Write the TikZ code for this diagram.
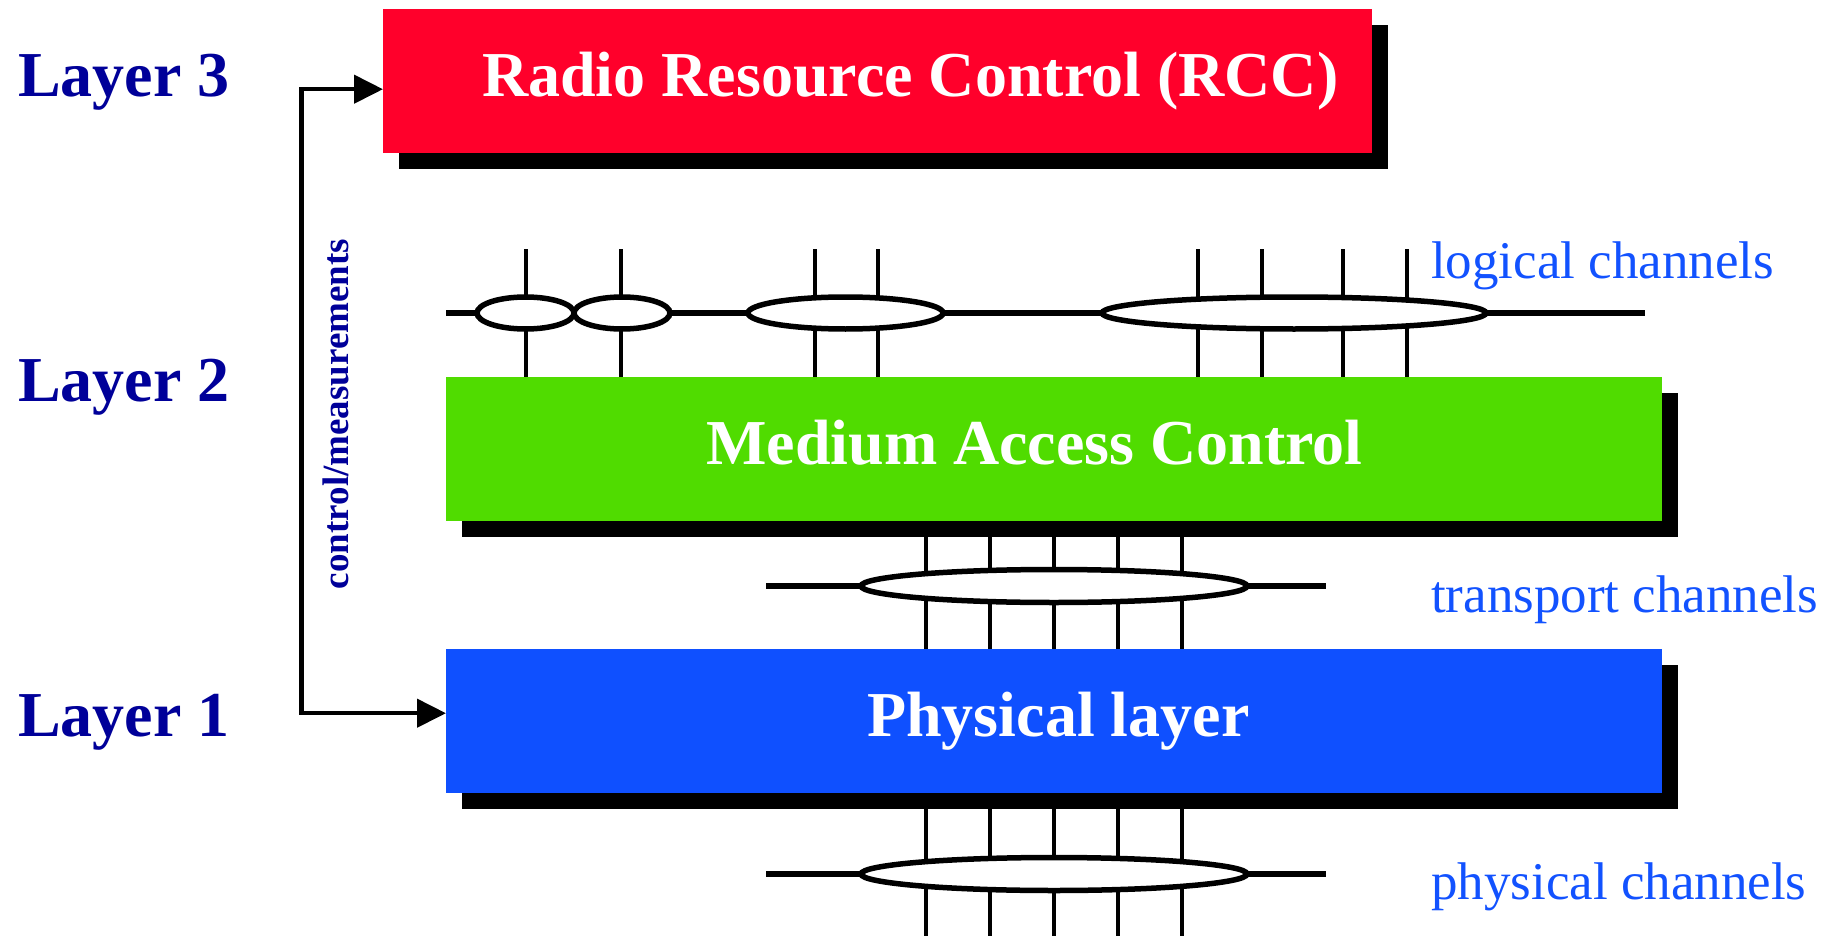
\documentclass[tikz,border=0pt]{standalone}
\usepackage{fontspec}
\setmainfont{Liberation Serif}
\usetikzlibrary{arrows.meta,shapes.geometric,shadows}

\definecolor{rrcred}{HTML}{FF002B}
\definecolor{macgreen}{HTML}{50DC00}
\definecolor{phyblue}{HTML}{0F50FF}
\definecolor{layernavy}{HTML}{000099}
\definecolor{chanblue}{HTML}{1252FF}

\tikzset{
  layerbox/.style={draw=none, rectangle, inner sep=0pt, anchor=north west,
    drop shadow={shadow xshift=16pt, shadow yshift=-16pt, opacity=1, fill=black}},
  boxtext/.style={anchor=base west, inner sep=0pt, text=white,
    font=\fontsize{64}{70}\selectfont\bfseries},
  layertext/.style={anchor=base west, inner sep=0pt, text=layernavy,
    font=\fontsize{64}{70}\selectfont\bfseries},
  chantext/.style={anchor=base west, inner sep=0pt, text=chanblue,
    font=\fontsize{53}{60}\selectfont},
  bus/.style={line width=5.5pt},
  chan/.style={line width=4.2pt},
  bundle/.style={ellipse, draw, line width=5.5pt, fill=white, inner sep=0pt},
  ctl/.style={line width=4.5pt, {Triangle[length=29pt,width=28pt]}-{Triangle[length=29pt,width=28pt]}}
}

\begin{document}
\begin{tikzpicture}[x=1pt, y=-1pt]
\useasboundingbox (0,0) rectangle (1836,936);

% protocol layers
\node[layerbox, fill=rrcred, minimum width=989pt, minimum height=144pt] (rrc) at (383,9) {};
\node[layerbox, fill=macgreen, minimum width=1216pt, minimum height=144pt] (mac) at (446,377) {};
\node[layerbox, fill=phyblue, minimum width=1216pt, minimum height=144pt] (phy) at (446,649) {};

\node[boxtext] (rrctext) at (482,97) {Radio Resource Control (RCC)};
\node[boxtext] (mactext) at (706,464) {Medium Access Control};
\node[boxtext] (phytext) at (867,736) {Physical layer};

% layer labels
\node[layertext] (l3) at (18,97) {Layer 3};
\node[layertext] (l2) at (18,401) {Layer 2};
\node[layertext] (l1) at (18,736) {Layer 1};

% control / measurement loop between RRC and the physical layer
\coordinate (bend) at (301.7,400);
\draw[ctl] ([yshift=-8pt]rrc.west) -| (bend) |- ([yshift=8pt]phy.west);
\node[rotate=90, anchor=base, inner sep=0pt, text=layernavy,
      font=\fontsize{37}{40}\selectfont\bfseries] (ctltext) at (348,414) {control/measurements};

% logical channels (above MAC)
\coordinate (lcL) at (446,313);
\coordinate (lcR) at (1645,313);
\draw[bus] (lcL) -- (lcR);
\foreach \x in {526,621,815,878,1198,1262,1343,1407}
  \draw[chan] (\x,249) -- (\x,377);
\node[bundle, minimum width=97pt, minimum height=32pt] (lg1) at (525.5,313) {};
\node[bundle, minimum width=96pt, minimum height=32pt] (lg2) at (622,313) {};
\node[bundle, minimum width=195pt, minimum height=32pt] (lg3) at (845.5,313) {};
\node[bundle, minimum width=384pt, minimum height=32pt] (lg4) at (1294,313) {};
\node[chantext] (lctext) at (1431,278) {logical channels};

% transport channels (between MAC and PHY)
\coordinate (tcL) at (766,586);
\coordinate (tcR) at (1326,586);
\draw[bus] (tcL) -- (tcR);
\foreach \x in {926,990,1054,1118,1182}
  \draw[chan] (\x,537) -- (\x,649);
\node[bundle, minimum width=386pt, minimum height=33pt] (tr) at (1054,586) {};
\node[chantext] (tctext) at (1431,612) {transport channels};

% physical channels (below PHY)
\coordinate (pcL) at (766,874);
\coordinate (pcR) at (1326,874);
\draw[bus] (pcL) -- (pcR);
\foreach \x in {926,990,1054,1118,1182}
  \draw[chan] (\x,809) -- (\x,936);
\node[bundle, minimum width=386pt, minimum height=33pt] (ph) at (1054,874) {};
\node[chantext] (pctext) at (1431,899) {physical channels};
\end{tikzpicture}
\end{document}
